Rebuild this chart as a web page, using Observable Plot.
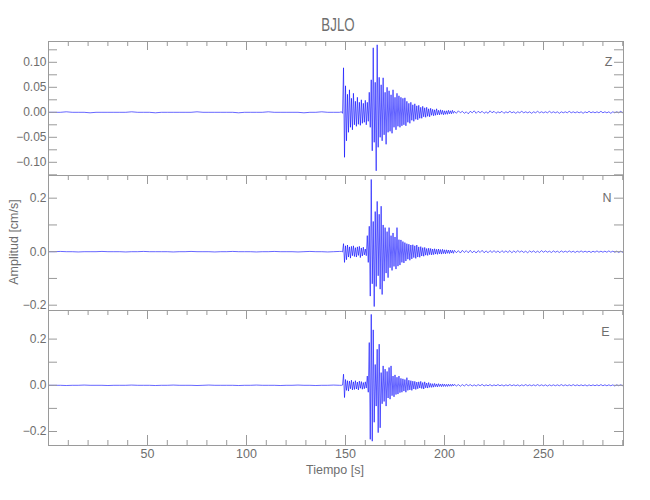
<!DOCTYPE html>
<html><head><meta charset="utf-8">
<script src="https://cdn.jsdelivr.net/npm/d3@7"></script>
<script src="https://cdn.jsdelivr.net/npm/@observablehq/plot@0.6"></script>
<style>
body{margin:0;background:#fff;}
#chart{position:relative;width:650px;height:500px;font-family:"Liberation Sans",Arial,sans-serif;color:#6e6e6e;overflow:hidden;}
.panel{position:absolute;left:0;}
.txt{position:absolute;white-space:nowrap;line-height:1;}
</style></head><body><div id="chart"></div>
<script>
// ---------------- data ----------------
const title = "BJLO";
const components = ["Z", "N", "E"];
const xLabel = "Tiempo [s]";
const yLabel = "Amplitud [cm/s]";
const xTickLabels = [50, 100, 150, 200, 250];
const xMinorTicks = [10,20,30,40,60,70,80,90,110,120,130,140,160,170,180,190,210,220,230,240,260,270,280,290];

// y tick positions and labels per component
const yTicksZ = [-0.125,-0.1,-0.075,-0.05,-0.025,0,0.025,0.05,0.075,0.1,0.125];
const yLabelsZ = [-0.10,-0.05,0.00,0.05,0.10];
const yTicksN = [-0.2,-0.1,0,0.1,0.2];
const yLabelsN = [-0.2,0.0,0.2];
const yTicksE = [-0.2,-0.1,0,0.1,0.2];
const yLabelsE = [-0.2,0.0,0.2];

// sampling of the traces (seconds)
const quietStart = 0, quietStep = 3;      // pre-event noise
const activeStart = 148, activeStep = 0.5; // event window
const tailStart = 205, tailStep = 1;       // coda tail

// amplitudes in 1/1000 cm/s
const quietZ = [0,0,0,1,0,0,0,-1,0,0, 0,0,0,0,1,0,0,0,-1,0, 0,0,0,0,0,1,0,0,0,0, 0,0,-1,0,0,0,0,1,0,0, 0,0,0,-1,0,0,1,0,0,0];
const activeZ = [1,-2, 89,-90, 53,-57, 36,-40, 45,-30, 28,-35, 38,-25, 22,-28, 30,-24, 20,-26,
  25,-22, 18,-20, 24,-25, 20,-18, 40,-30, 65,-77, 129,-60, 60,-117, 135,-70, 70,-50,
  55,-57, 69,-45, 40,-64, 50,-40, 43,-38, 35,-42, 45,-30, 30,-35, 38,-28, 33,-30,
  30,-27, 28,-25, 29,-27, 22,-20, 18,-22, 20,-16, 15,-18, 17,-14, 13,-15, 14,-12,
  10,-12, 12,-9, 9,-10, 10,-8, 7,-9, 8,-6, 6,-7, 5,-6, 7,-5, 4,-5,
  5,-4, 4,-5, 3,-4, 3,-4, 4,-3, 3,-3, 4,-2];
const tailZ = [2,-2,3,-1,2,-2,1,-3,2,-1, 3,-2,2,-1,2,-2,1,-2,3,-1, 2,-2,1,-1,2,-2,1,-1,2,-1, 1,-2,1,-1,2,-1,1,-1,1,-2, 1,-1,2,-1,1,-1,1,-1,2,-1, 1,-1,1,-2,1,-1,1,-1,2,-1, 1,-1,1,-1,1,-2,1,-1,2,-1, 1,-1,1,-1,2,-1,1,-1,1,-2, 1,-1,1,-1,2,-1];

const quietN = [0,0,1,0,0,-1,0,0,0,1, 0,0,0,-1,0,0,1,0,0,0, 0,-1,0,0,1,0,0,0,-1,0, 0,1,0,0,0,-1,0,0,1,0, 0,0,-1,0,1,0,0,-1,0,1];
const activeN = [1,-1, 30,-40, 22,-30, 25,-20, 18,-24, 20,-15, 22,-18, 15,-20, 18,-14, 20,-22,
  14,-16, 17,-12, 10,-15, 60,-40, 95,-166, 270,-120, 113,-205, 150,-130, 188,-90, 140,-140,
  170,-160, 100,-110, 90,-80, 75,-97, 90,-60, 60,-70, 70,-55, 55,-65, 90,-54, 45,-50,
  44,-40, 38,-42, 34,-35, 30,-28, 28,-32, 25,-27, 26,-22, 22,-25, 25,-20, 18,-21,
  19,-16, 15,-17, 16,-13, 12,-14, 13,-11, 12,-12, 10,-11, 11,-9, 9,-10, 10,-8,
  8,-9, 9,-7, 7,-8, 7,-6, 6,-7, 6,-5, 5,-6];
const tailN = [5,-4,4,-5,5,-3,4,-4,5,-4, 3,-5,4,-3,5,-4,3,-4,4,-3, 4,-3,3,-4,4,-3,3,-3,4,-4, 3,-3,4,-2,3,-3,2,-4,3,-2, 3,-3,2,-3,4,-2,3,-2,2,-3, 3,-2,2,-3,3,-2,2,-2,3,-2, 2,-3,2,-2,3,-2,2,-2,2,-3, 2,-2,3,-2,2,-2,2,-2,3,-2, 2,-2,2,-3,2,-2];

const quietE = [0,0,0,-1,0,0,1,0,0,0, -1,0,0,0,1,0,0,0,-1,0, 0,1,0,0,0,-1,0,1,0,0, 0,0,-1,0,0,1,0,0,0,-1, 0,0,1,0,0,-1,0,0,1,0];
const activeE = [0,1, 48,-53, 25,-22, 20,-25, 18,-15, 22,-20, 15,-18, 20,-16, 14,-20, 18,-13,
  16,-17, 12,-15, 15,-12, 40,-30, 185,-234, 307,-242, 240,-160, 90,-90, 156,-205, 178,-184,
  55,-80, 84,-70, 70,-90, 60,-55, 77,-60, 84,-45, 40,-50, 45,-40, 35,-38, 40,-32,
  30,-30, 28,-25, 25,-30, 33,-22, 22,-20, 20,-22, 18,-16, 17,-18, 14,-15, 15,-12,
  17,-14, 12,-16, 15,-11, 10,-12, 12,-9, 8,-9, 7,-8, 8,-6, 6,-7, 7,-5,
  5,-6, 6,-5, 5,-5, 4,-5, 5,-4, 4,-4, 5,-3];
const tailE = [4,-3,3,-4,3,-3,4,-2,3,-3, 2,-3,3,-2,4,-3,2,-2,3,-3, 2,-2,3,-2,2,-3,2,-2,3,-2, 2,-2,2,-3,2,-2,3,-2,2,-2, 2,-2,3,-2,2,-2,2,-3,2,-2, 2,-2,2,-2,3,-2,2,-2,2,-2, 3,-2,2,-2,2,-2,2,-3,2,-2, 2,-2,2,-2,3,-2,2,-2,2,-2, 2,-3,2,-2,2,-2];

// ---------------- build ----------------
function trace(q, a, tl) {
  const pts = [];
  q.forEach((v, i) => pts.push({t: quietStart + i * quietStep, v: v / 1000}));
  a.forEach((v, i) => pts.push({t: activeStart + i * activeStep, v: v / 1000}));
  tl.forEach((v, i) => pts.push({t: tailStart + i * tailStep, v: v / 1000}));
  return pts;
}

const chart = document.getElementById("chart");
const W = 650, mL = 48, mR = 27, plotW = W - mL - mR;
const gray = "#9a9a9a", textGray = "#6e6e6e";
const panels = [
  {name: components[0], data: trace(quietZ, activeZ, tailZ), dom: [-0.1264, 0.1416], ticks: yTicksZ, labels: yLabelsZ, fmt: d3.format(".2f"), top: 40.5, bottom: 174.5, dx: -11, dy: 20.5},
  {name: components[1], data: trace(quietN, activeN, tailN), dom: [-0.2198, 0.2848], ticks: yTicksN, labels: yLabelsN, fmt: d3.format(".1f"), top: 174.5, bottom: 309.5, dx: -12, dy: 22.5},
  {name: components[2], data: trace(quietE, activeE, tailE), dom: [-0.2606, 0.3238], ticks: yTicksE, labels: yLabelsE, fmt: d3.format(".1f"), top: 309.5, bottom: 444.5, dx: -14, dy: 21.5}
];

panels.forEach((p, i) => {
  const last = i === panels.length - 1;
  const H = p.bottom - p.top;
  const padT = 4, padB = last ? 40 : 4;
  const marks = [
    Plot.line(p.data, {x: "t", y: "v", stroke: "#0000ff", strokeWidth: 0.6, clip: true}),
    Plot.frame({stroke: gray}),
    Plot.tickY(p.ticks, {y: d => d, stroke: gray, insetRight: plotW - 9}),
    Plot.tickY(p.ticks, {y: d => d, stroke: gray, insetLeft: plotW - 9}),
    Plot.tickX(xMinorTicks, {x: d => d, stroke: gray, insetBottom: H - 5}),
    Plot.tickX(xTickLabels, {x: d => d, stroke: gray, insetBottom: H - 9}),
    Plot.axisY(p.labels, {tickSize: 0, tickPadding: 2, tickFormat: p.fmt, label: null, fontSize: 12, fill: textGray}),
    Plot.text([p.name], {text: d => d, frameAnchor: "top-right", textAnchor: "end", lineAnchor: "middle", dx: p.dx, dy: p.dy, fontSize: 12.5, fill: textGray})
  ];
  if (last) {
    marks.push(Plot.tickX(xMinorTicks, {x: d => d, stroke: gray, insetTop: H - 5}));
    marks.push(Plot.tickX(xTickLabels, {x: d => d, stroke: gray, insetTop: H - 10}));
    marks.push(Plot.axisX(xTickLabels, {tickSize: 0, tickPadding: 3.5, label: null, fontSize: 12.5, fill: textGray}));
  }
  const svg = Plot.plot({
    width: W, height: H + padT + padB,
    marginLeft: mL, marginRight: mR, marginTop: padT, marginBottom: padB,
    x: {domain: [0, 290.4], axis: last ? undefined : null},
    y: {domain: p.dom},
    style: {background: "transparent", overflow: "visible", fontFamily: '"Liberation Sans", Arial, sans-serif', color: textGray},
    marks
  });
  svg.classList.add("panel");
  svg.style.top = (p.top - padT) + "px";
  chart.appendChild(svg);
});

function addText(str, x, y, size, extra) {
  const d = document.createElement("div");
  d.className = "txt";
  d.textContent = str;
  d.style.left = x + "px";
  d.style.top = y + "px";
  d.style.fontSize = size + "px";
  d.style.transform = "translate(-50%,-50%)" + (extra || "");
  chart.appendChild(d);
}
addText(title, 338, 23.5, 19, " scaleX(0.7)");
addText(xLabel, 335, 470, 12.5);
addText(yLabel, 14, 241.5, 12.5, " rotate(-90deg)");
</script>
</body></html>
